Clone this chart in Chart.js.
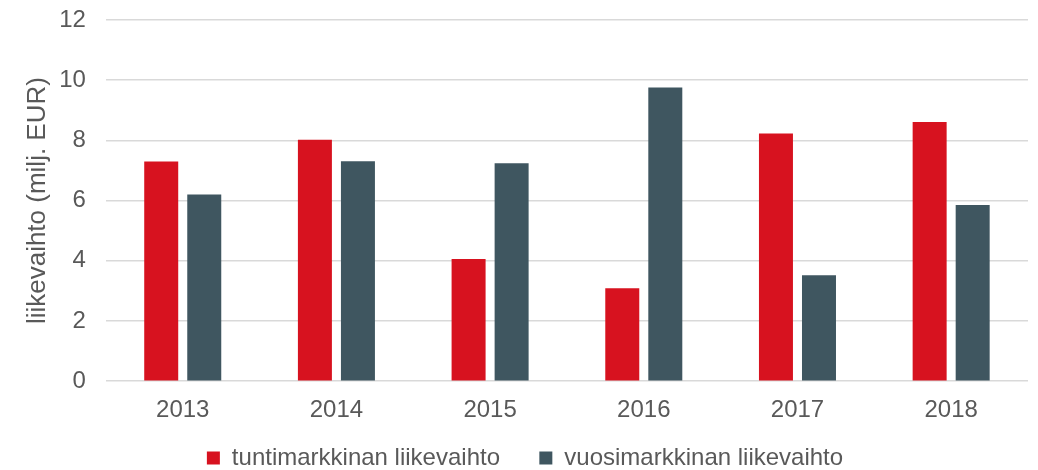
<!DOCTYPE html>
<html>
<head>
<meta charset="utf-8">
<script src="https://cdn.jsdelivr.net/npm/chart.js@4/dist/chart.umd.min.js"></script>
<style>
  body { margin: 0; background: #fff; }
  #wrap { width: 1038px; height: 470px; }
</style>
</head>
<body>
<div id="wrap"><canvas id="chart"></canvas></div>
<script>
const vuodet = ["2013", "2014", "2015", "2016", "2017", "2018"];
const tuntimarkkina = [7.30, 8.02, 4.06, 3.09, 8.23, 8.61];
const vuosimarkkina = [6.20, 7.31, 7.24, 9.76, 3.52, 5.85];
const sarjaNimet = ["tuntimarkkinan liikevaihto", "vuosimarkkinan liikevaihto"];
const akseliOtsikko = "liikevaihto (milj. EUR)";

const harmaa = "#595959";
const fontti = "'Liberation Sans', Arial, sans-serif";

const ctx = document.getElementById("chart").getContext("2d");
new Chart(ctx, {
    type: "bar",
    data: {
        labels: vuodet,
        datasets: [
            { label: sarjaNimet[0], data: tuntimarkkina, backgroundColor: "#D7121F" },
            { label: sarjaNimet[1], data: vuosimarkkina, backgroundColor: "#3F5660" }
        ]
    },
    options: {
        responsive: true,
        maintainAspectRatio: false,
        animation: false,
        categoryPercentage: 0.56,
        barPercentage: 0.79,
        layout: { padding: { top: 0, left: 22, right: 10, bottom: -10 } },
        plugins: {
            tooltip: { enabled: false },
            legend: {
                position: "bottom",
                labels: {
                    color: harmaa,
                    font: { family: fontti, size: 24 },
                    boxWidth: 13,
                    boxHeight: 13,
                    padding: 6,
                    // vähän lisää väliä selitteiden väliin
                    generateLabels: function(chart) {
                        const items = Chart.defaults.plugins.legend.labels.generateLabels(chart);
                        items[0].text = items[0].text + "     ";
                        return items;
                    }
                }
            }
        },
        scales: {
            x: {
                grid: { display: false, drawTicks: false },
                border: { display: false },
                ticks: { color: harmaa, font: { family: fontti, size: 24 }, padding: 15 }
            },
            y: {
                min: 0,
                max: 12,
                ticks: { stepSize: 2, color: harmaa, font: { family: fontti, size: 24, lineHeight: 0 }, padding: 20 },
                grid: { color: "#d9d9d9", lineWidth: 1.5, drawTicks: false },
                border: { display: false },
                title: {
                    display: true,
                    text: akseliOtsikko,
                    color: harmaa,
                    font: { family: fontti, size: 26 },
                    padding: { top: 0, bottom: -14 }
                }
            }
        }
    }
});
</script>
</body>
</html>
